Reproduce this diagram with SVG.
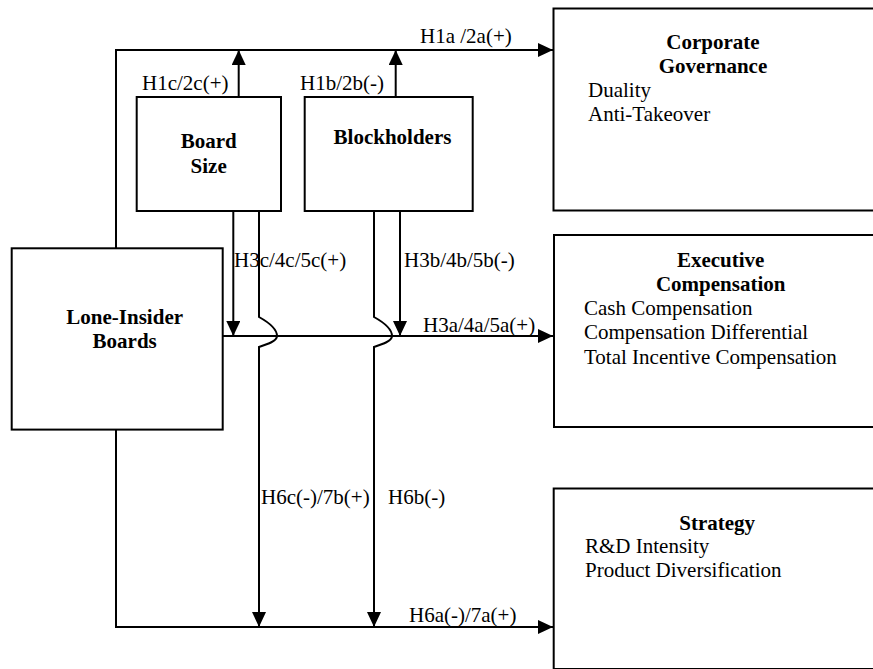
<svg xmlns="http://www.w3.org/2000/svg" width="873" height="669" viewBox="0 0 873 669">
  <style>
    .box { fill: #ffffff; stroke: #000000; stroke-width: 2; }
    .wire { fill: none; stroke: #000000; stroke-width: 2; }
    text { font-size: 21px; fill: #000000; }
    .title { font-weight: bold; text-anchor: middle; }
  </style>
  <defs>
    <marker id="arrow" viewBox="0 0 15 14" refX="15" refY="7" markerWidth="15" markerHeight="14" markerUnits="userSpaceOnUse" orient="auto">
      <path d="M0,0 L15,7 L0,14 z" fill="#000000"/>
    </marker>
  </defs>
  <rect width="873" height="669" fill="#ffffff"/>

  <g font-family="Liberation Serif, DejaVu Serif, serif">
  <!-- connectors -->
  <g id="connectors">
    <path class="wire" d="M116,248 V50 H553" marker-end="url(#arrow)"/>
    <path class="wire" d="M238.7,97 V50" marker-end="url(#arrow)"/>
    <path class="wire" d="M395.7,97 V50" marker-end="url(#arrow)"/>
    <path class="wire" d="M222.7,336 H553" marker-end="url(#arrow)"/>
    <path class="wire" d="M233.3,211 V336" marker-end="url(#arrow)"/>
    <path class="wire" d="M400,211 V336" marker-end="url(#arrow)"/>
    <path class="wire" d="M259,211 V317 C268,322 277,328 277,336 C277,341 268,344 259,347 V627" marker-end="url(#arrow)"/>
    <path class="wire" d="M374,211 V317 C383,322 392,328 392,336 C392,341 383,344 374,347 V627" marker-end="url(#arrow)"/>
    <path class="wire" d="M116,430 V627 H553" marker-end="url(#arrow)"/>
    <text x="420" y="43">H1a /2a(+)</text>
    <text x="142" y="90">H1c/2c(+)</text>
    <text x="300" y="90">H1b/2b(-)</text>
    <text x="234" y="267">H3c/4c/5c(+)</text>
    <text x="404" y="267">H3b/4b/5b(-)</text>
    <text x="423" y="332">H3a/4a/5a(+)</text>
    <text x="261" y="504">H6c(-)/7b(+)</text>
    <text x="388" y="504">H6b(-)</text>
    <text x="409" y="622">H6a(-)/7a(+)</text>
  </g>

  <g id="board-size">
    <rect class="box" x="136.7" y="97" width="144.3" height="114"/>
    <text class="title" x="208.7" y="148">Board</text>
    <text class="title" x="208.7" y="173">Size</text>
  </g>

  <g id="blockholders">
    <rect class="box" x="304.7" y="97" width="168" height="114"/>
    <text class="title" x="392.5" y="144">Blockholders</text>
  </g>

  <g id="lone-insider-boards">
    <rect class="box" x="11.7" y="248.3" width="211" height="181.3"/>
    <text class="title" x="124.7" y="324">Lone-Insider</text>
    <text class="title" x="124.7" y="348">Boards</text>
  </g>

  <g id="corporate-governance">
    <rect class="box" x="553.5" y="8.5" width="330" height="202"/>
    <text class="title" x="713" y="49">Corporate</text>
    <text class="title" x="713" y="73">Governance</text>
    <text x="588" y="97">Duality</text>
    <text x="588" y="121">Anti-Takeover</text>
  </g>

  <g id="executive-compensation">
    <rect class="box" x="554" y="235" width="330" height="192"/>
    <text class="title" x="720.7" y="267">Executive</text>
    <text class="title" x="720.7" y="291">Compensation</text>
    <text x="584" y="315">Cash Compensation</text>
    <text x="584" y="339">Compensation Differential</text>
    <text x="584" y="364">Total Incentive Compensation</text>
  </g>

  <g id="strategy">
    <rect class="box" x="553.7" y="488.5" width="330" height="180.5"/>
    <text class="title" x="717.2" y="530">Strategy</text>
    <text x="585" y="553">R&amp;D Intensity</text>
    <text x="585" y="577">Product Diversification</text>
  </g>
  </g>
</svg>
